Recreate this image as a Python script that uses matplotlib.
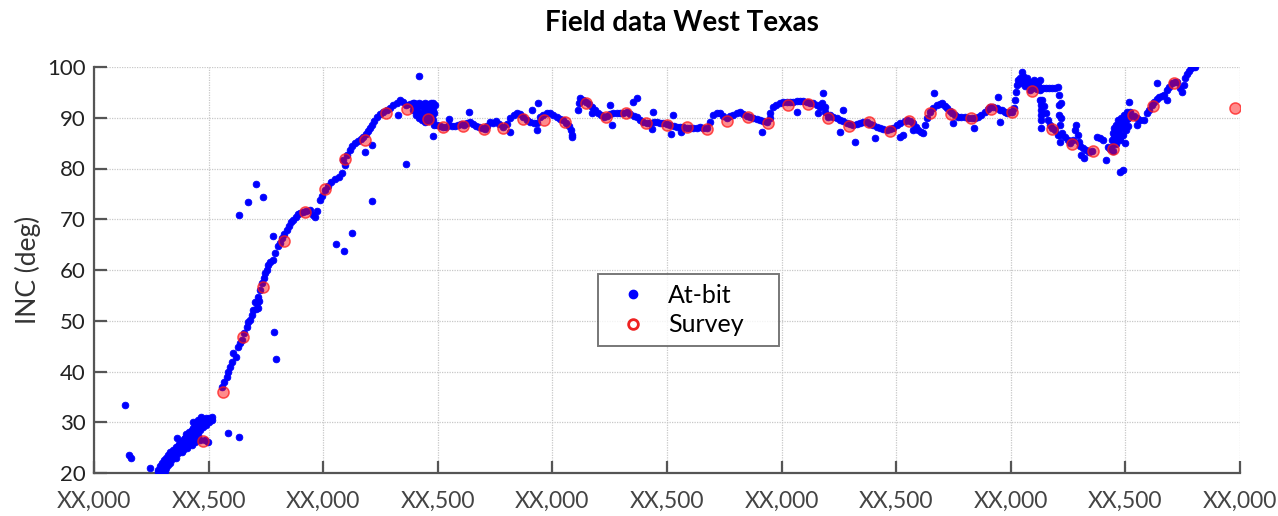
"""
Field data West Texas - at-bit inclination vs survey inclination.
"""

import matplotlib
matplotlib.use("Agg")
import matplotlib.pyplot as plt
from matplotlib.lines import Line2D

plt.rcParams["font.family"] = ["Lato", "DejaVu Sans"]

# ── Data (MD in ft along the lateral, INC in deg) ────────────────────────────

X_TICKS  = [0, 500, 1000, 1500, 2000, 2500, 3000, 3500, 4000, 4500, 5000]
X_LABELS = ["XX,000", "XX,500"] * 5 + ["XX,000"]
Y_TICKS  = [20, 30, 40, 50, 60, 70, 80, 90, 100]

SURVEY_MD = [475, 563, 650, 737, 829, 921, 1008, 1095, 1182, 1274, 1365, 1457,
             1523, 1610, 1702, 1785, 1872, 1963, 2055, 2147, 2234, 2321, 2408,
             2500, 2587, 2675, 2762, 2853, 2941, 3028, 3115, 3202, 3294, 3381,
             3473, 3556, 3648, 3739, 3826, 3914, 4005, 4092, 4180, 4267, 4359,
             4446, 4533, 4620, 4712, 4978]
SURVEY_INC = [26.3, 36.0, 46.8, 56.7, 65.7, 71.4, 76.0, 81.9, 85.6, 90.9, 91.8, 89.8,
              88.2, 88.4, 87.8, 88.0, 89.8, 89.6, 89.2, 92.9, 90.2, 91.0, 89.0,
              88.6, 88.2, 87.8, 89.4, 90.2, 89.0, 92.5, 92.7, 90.0, 88.4, 89.2,
              87.4, 89.4, 90.9, 90.7, 90.0, 91.7, 91.1, 95.3, 87.8, 84.8, 83.5,
              83.8, 90.5, 92.3, 96.8, 91.9]

# at-bit: vertical / tangent cluster
ATBIT_TANGENT = [
    (279, 20.2), (279, 20.6), (288, 20.6), (288, 21.4), (297, 21.0), (297, 22.0),
    (305, 21.6), (305, 22.6), (314, 22.0), (314, 23.0), (314, 21.0), (323, 22.6),
    (323, 23.6), (332, 23.0), (332, 24.2), (332, 22.0), (345, 23.6), (345, 24.6),
    (358, 24.2), (358, 25.2), (358, 23.0), (362, 26.9), (371, 24.8), (371, 25.7),
    (384, 25.2), (384, 26.3), (384, 24.2), (397, 25.7), (397, 26.9), (406, 26.1),
    (406, 27.3), (406, 25.0), (419, 26.5), (419, 27.7), (428, 27.1), (428, 28.5),
    (428, 25.5), (441, 27.5), (441, 28.9), (441, 26.1), (449, 28.1), (449, 29.7),
    (462, 28.5), (462, 30.1), (462, 26.5), (475, 29.1), (475, 30.5), (489, 29.5),
    (489, 30.9), (502, 30.9), (502, 30.1), (515, 31.0), (515, 30.5), (484, 26.5),
    (497, 26.1), (300, 20.4), (310, 20.3), (325, 21.5), (340, 22.8), (350, 23.2),
    (365, 24.0), (390, 24.6), (412, 25.6), (435, 26.8), (455, 27.4),
    (320, 22.2), (338, 23.9), (352, 24.6), (368, 25.4), (378, 26.0), (393, 26.7),
    (402, 27.6), (415, 28.1), (432, 28.9), (445, 29.4), (432, 30.1), (475, 29.9),
    (455, 30.4), (468, 31.0),
]

# at-bit: build section
ATBIT_BUILD = [
    (558, 37.0), (567, 37.9), (580, 38.9), (585, 39.9), (593, 40.9), (602, 41.9),
    (606, 43.6), (620, 42.9), (628, 44.8), (637, 45.6), (646, 46.2), (654, 47.6),
    (668, 48.8), (672, 49.8), (681, 50.2), (689, 51.1), (694, 52.1), (702, 53.7),
    (711, 53.5), (716, 54.7), (707, 52.4), (715, 52.6), (720, 53.9), (724, 56.1),
    (733, 57.4), (742, 58.4), (746, 59.4), (755, 60.0), (759, 61.0), (768, 61.6),
    (781, 62.0), (790, 63.4), (803, 64.7), (812, 65.3), (820, 66.3), (829, 67.1),
    (842, 67.9), (851, 68.7), (859, 69.5), (868, 69.9), (881, 70.4), (890, 71.0),
    (899, 71.2), (912, 71.4), (925, 71.6), (942, 71.8), (955, 70.9), (964, 70.4),
    (973, 71.6), (986, 73.8), (995, 74.6), (1008, 75.8), (1021, 76.6), (1034, 77.3),
    (1052, 77.9), (1069, 78.3), (1082, 79.1), (1086, 81.7), (1095, 80.7),
    (1104, 82.7), (1117, 83.6), (1126, 84.4), (1139, 85.0), (1152, 85.4),
    (1165, 85.8), (1174, 86.2), (1187, 86.8), (1195, 87.4), (1204, 88.0),
    (1213, 88.6), (1222, 89.4), (1235, 90.2), (1248, 90.7), (1261, 91.1),
    (1278, 91.5), (1291, 91.9), (1304, 92.5), (1322, 92.9), (1335, 93.5),
    (1348, 93.1), (1361, 92.5), (1379, 92.7),
    (1392, 92.9), (1392, 91.5), (1405, 92.7), (1405, 90.5), (1418, 92.9),
    (1418, 90.0), (1431, 92.7), (1431, 89.6), (1444, 92.9), (1444, 91.5),
    (1444, 89.2), (1457, 92.7), (1457, 91.1), (1457, 90.0), (1470, 92.9),
    (1470, 91.9), (1470, 90.5), (1479, 92.9), (1479, 91.5), (1479, 89.6),
    (1484, 88.6), (1400, 92.0), (1410, 91.2), (1425, 91.0), (1436, 90.4),
    (1450, 89.8), (1462, 89.4), (1475, 90.2), (1485, 91.0), (1488, 92.5),
    (1398, 93.0), (1412, 92.2), (1438, 92.0), (1452, 92.2), (1465, 91.6),
]

# at-bit: lateral
ATBIT_LATERAL = [
    (1497, 88.6), (1510, 88.4), (1523, 88.2), (1536, 88.2), (1549, 88.6),
    (1562, 88.4), (1575, 88.4), (1588, 88.6), (1601, 88.8), (1614, 88.6),
    (1627, 89.0), (1640, 89.2), (1653, 88.8), (1667, 88.4), (1680, 88.2),
    (1693, 88.0), (1706, 87.8), (1715, 88.4), (1728, 89.2), (1741, 89.0),
    (1754, 89.4), (1767, 88.8), (1785, 88.2), (1802, 88.8), (1815, 90.0),
    (1832, 90.5), (1845, 90.9), (1859, 90.7), (1872, 90.1), (1889, 89.6),
    (1902, 89.2), (1920, 89.0), (1933, 89.0), (1946, 90.1), (1959, 90.5),
    (1976, 90.9), (1990, 90.9), (2003, 90.5), (2020, 90.1), (2033, 89.8),
    (2046, 89.6), (2059, 89.0), (2073, 88.4), (2081, 87.6), (2086, 86.6),
    (2112, 91.5), (2116, 92.9), (2120, 93.9), (2134, 93.5), (2147, 93.1),
    (2160, 92.7), (2173, 92.1), (2186, 91.5), (2199, 90.9), (2212, 90.5),
    (2225, 90.1), (2238, 90.3), (2251, 90.7), (2264, 90.9), (2282, 90.9),
    (2295, 90.9), (2308, 90.9), (2326, 91.1), (2339, 90.7), (2356, 90.3),
    (2369, 90.1), (2382, 89.6), (2395, 89.2), (2413, 89.0), (2426, 89.0),
    (2443, 89.2), (2456, 89.2), (2469, 89.0), (2482, 89.0), (2500, 88.8),
    (2513, 88.6), (2530, 88.4), (2543, 88.2), (2557, 88.2), (2570, 88.2),
    (2587, 88.0), (2600, 88.0), (2613, 88.0), (2631, 88.0), (2644, 88.2),
    (2657, 88.0), (2675, 88.0), (2688, 89.2), (2701, 90.5), (2718, 90.9),
    (2731, 90.9), (2744, 90.3), (2762, 89.9), (2775, 90.3), (2788, 90.5),
    (2805, 90.9), (2819, 91.1), (2832, 90.7), (2849, 90.3), (2862, 90.1),
    (2875, 89.9), (2893, 89.8), (2906, 89.6), (2919, 89.4), (2937, 89.2),
    (2949, 90.9), (2949, 90.0), (2963, 92.1), (2976, 92.5), (2993, 92.9),
    (3006, 93.1), (3024, 93.1), (3037, 93.1), (3050, 93.1), (3067, 93.3),
    (3080, 93.3), (3093, 93.3), (3111, 93.1), (3124, 92.9), (3137, 92.9),
    (3155, 92.5), (3168, 92.1), (3176, 92.9), (3189, 91.1), (3189, 92.1),
    (3202, 90.1), (3211, 90.5), (3224, 90.1), (3242, 89.9), (3255, 89.6),
    (3268, 89.4), (3285, 89.0), (3298, 88.8), (3311, 88.6), (3329, 88.8),
    (3342, 89.0), (3355, 89.2), (3373, 89.2), (3386, 88.8), (3399, 88.6),
    (3416, 88.2), (3429, 88.0), (3442, 87.8), (3460, 87.6), (3473, 87.8),
    (3486, 88.0), (3503, 88.6), (3517, 89.0), (3530, 86.6), (3538, 89.4),
    (3547, 89.6), (3560, 89.4), (3573, 89.0), (3573, 87.6), (3586, 88.2),
    (3595, 87.6), (3608, 87.2), (3617, 87.0), (3626, 88.6), (3634, 90.0),
    (3648, 91.1), (3661, 91.9), (3678, 92.5), (3691, 92.7), (3700, 92.9),
    (3713, 92.3), (3722, 91.9), (3735, 91.3), (3744, 90.9), (3757, 90.5),
    (3770, 90.1), (3783, 90.1), (3800, 90.1), (3813, 89.9), (3831, 89.9),
    (3844, 89.9), (3857, 90.1), (3870, 90.5), (3888, 91.1), (3901, 91.7),
    (3909, 92.1), (3923, 92.1), (3940, 91.9), (3953, 91.5), (3962, 91.5),
    (3975, 91.1), (3984, 90.9), (3997, 91.1), (4005, 91.1),
]

# at-bit: toe section
ATBIT_TOE = [
    (4014, 91.9), (4018, 93.5), (4023, 95.1), (4027, 96.5), (4031, 97.4),
    (4040, 97.8), (4049, 99.0), (4058, 97.8), (4066, 97.4), (4075, 96.7),
    (4084, 97.1), (4084, 95.5), (4092, 96.3), (4101, 97.4), (4110, 96.5),
    (4119, 97.1), (4127, 97.4), (4127, 95.5), (4127, 93.5), (4132, 91.5),
    (4132, 89.6), (4132, 88.0), (4136, 93.5), (4145, 92.3), (4154, 90.9),
    (4162, 89.6), (4171, 88.6), (4180, 88.0), (4140, 95.9), (4154, 95.9),
    (4167, 95.9), (4180, 95.9), (4193, 95.9), (4206, 96.1), (4210, 94.5),
    (4210, 92.5), (4210, 90.5), (4215, 88.6), (4215, 86.6), (4215, 85.2),
    (4193, 87.6), (4206, 86.6), (4223, 87.0), (4236, 86.2), (4249, 85.6),
    (4258, 85.0), (4271, 85.6), (4280, 87.6), (4284, 88.6), (4293, 86.6),
    (4297, 85.2), (4302, 84.4), (4315, 84.0), (4328, 83.6), (4341, 83.3),
    (4354, 83.5), (4306, 82.7), (4319, 82.1), (4376, 86.2), (4389, 86.0),
    (4402, 85.6), (4424, 84.2), (4433, 83.8), (4437, 84.2), (4442, 85.6),
    (4446, 87.0), (4450, 88.0), (4455, 85.2), (4459, 88.6), (4463, 86.6),
    (4468, 89.6), (4472, 87.6), (4477, 85.6), (4481, 90.0), (4485, 88.6),
    (4490, 86.6), (4494, 90.5), (4498, 89.2), (4503, 87.6), (4507, 91.1),
    (4511, 90.0), (4520, 91.1), (4538, 90.3), (4551, 89.9), (4564, 89.6),
    (4581, 89.6), (4595, 90.9), (4603, 91.5), (4616, 92.5), (4625, 93.1),
    (4638, 93.7), (4647, 94.1), (4660, 94.3), (4669, 94.5), (4682, 95.5),
    (4691, 96.1), (4704, 96.8), (4717, 97.0), (4725, 97.0), (4738, 95.9),
    (4747, 95.1), (4756, 96.5), (4760, 97.8), (4769, 98.6), (4778, 99.2),
    (4786, 99.8), (4795, 100.0), (4804, 100.0),
    (4045, 96.8), (4053, 98.2), (4062, 96.3), (4070, 97.9), (4088, 96.0),
    (4097, 95.8), (4105, 96.0), (4114, 95.6), (4123, 96.0), (4130, 92.5),
    (4130, 90.5), (4445, 83.5), (4452, 86.2), (4460, 84.8), (4466, 87.8),
    (4474, 89.0), (4480, 86.4), (4488, 89.9), (4496, 88.0), (4500, 85.0),
    (4505, 89.8), (4510, 88.4), (4515, 90.2), (4218, 90.0), (4218, 93.0),
]

# at-bit: stray readings
ATBIT_STRAY = [
    (135, 33.4), (153, 23.6), (161, 23.0), (244, 21.0), (585, 27.9), (633, 27.1),
    (633, 70.8), (672, 73.4), (707, 76.9), (737, 74.4), (781, 66.7), (785, 47.8),
    (794, 42.5), (1056, 65.1), (1091, 63.8), (1126, 67.3), (1213, 73.6),
    (1182, 83.3), (1213, 84.6), (1326, 90.5), (1361, 80.9), (1418, 98.2),
    (1479, 86.4), (1549, 89.8), (1636, 91.1), (1815, 87.2), (1911, 91.5),
    (1933, 87.6), (1937, 92.9), (2086, 86.2), (2173, 90.9), (2251, 92.5),
    (2260, 88.6), (2352, 93.1), (2369, 93.9), (2439, 91.1), (2435, 87.8),
    (2517, 86.8), (2526, 90.5), (2561, 87.2), (2915, 87.2), (3067, 91.1),
    (3159, 90.9), (3181, 94.9), (3255, 87.2), (3268, 91.5), (3320, 85.2),
    (3407, 86.0), (3517, 86.2), (3665, 94.9), (3748, 89.0), (3840, 88.0),
    (3944, 94.1), (3953, 89.2), (4415, 81.7), (4490, 79.7), (4515, 93.1),
    (4638, 96.8), (4551, 88.6), (4682, 93.5), (4477, 79.3),
]

# ── Plot ─────────────────────────────────────────────────────────────────────

atbit = ATBIT_TANGENT + ATBIT_BUILD + ATBIT_LATERAL + ATBIT_TOE + ATBIT_STRAY
atbit_md = [p[0] for p in atbit]
atbit_inc = [p[1] for p in atbit]

fig = plt.figure(figsize=(12.78, 5.16), dpi=100)
ax = fig.add_axes([94 / 1278, 43 / 516, 1146 / 1278, 406 / 516])

ax.plot(atbit_md, atbit_inc, linestyle="none", marker="o", ms=4.8,
        mfc="#0000ff", mec="#0000ff", mew=0.6, zorder=3)
ax.plot(SURVEY_MD, SURVEY_INC, linestyle="none", marker="o", ms=8.0,
        mfc=(1, 0, 0, 0.45), mec=(1, 0.1, 0.1, 0.75), mew=1.1, zorder=4)

ax.set_xlim(0, 5000)
ax.set_ylim(20, 100)
ax.set_xticks(X_TICKS)
ax.set_xticklabels(X_LABELS)
ax.set_yticks(Y_TICKS)

ax.grid(True, color="#c8c8c8", linestyle=(0, (1, 1)), linewidth=0.9)
ax.set_axisbelow(True)
for side in ("top", "right"):
    ax.spines[side].set_visible(False)
for side in ("left", "bottom"):
    ax.spines[side].set_color("#555555")
    ax.spines[side].set_linewidth(1.6)
ax.tick_params(direction="in", length=9, width=1.6, color="#555555",
               labelcolor="#222222")
ax.tick_params(axis="x", pad=13, labelsize=16.5, labelcolor="#444444")
ax.tick_params(axis="y", pad=6, labelsize=16)

ax.set_ylabel("INC (deg)", fontsize=19, color="#333333", labelpad=4)
fig.text(682 / 1278, 1 - 23 / 516, "Field data West Texas", ha="center",
         va="center", fontsize=20, fontweight="bold")

handles = [
    Line2D([], [], linestyle="none", marker="o", ms=6, mfc="#0000ff", mec="#0000ff"),
    Line2D([], [], linestyle="none", marker="o", ms=7, mfc="none", mec="#ee2222", mew=2),
]
leg = ax.legend(handles, ["At-bit", "Survey"], loc="upper left",
                bbox_to_anchor=(0.44, 0.39, 0.158, 0.1), mode="expand",
                frameon=True, fancybox=False, borderpad=0.4,
                handletextpad=0.4, labelspacing=0.25, borderaxespad=0,
                handlelength=2.0, prop={"size": 18})
leg.get_frame().set_edgecolor("#555555")
leg.get_frame().set_linewidth(1.4)

fig.savefig("out.png", dpi=100)
